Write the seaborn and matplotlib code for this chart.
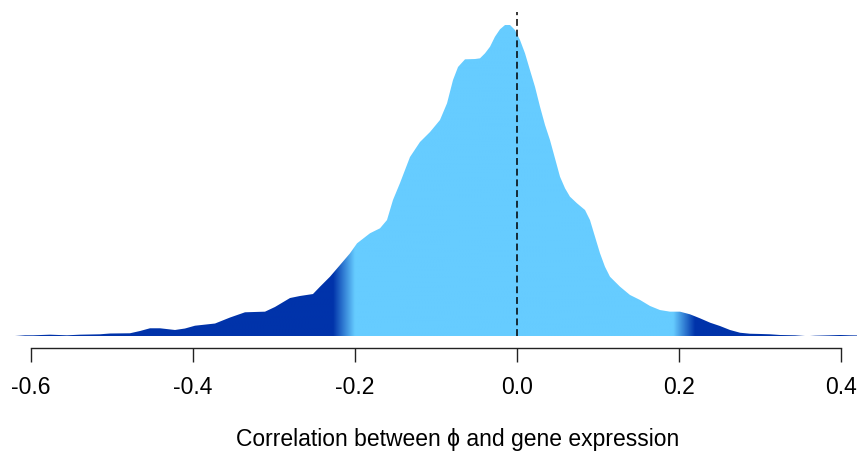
import numpy as np
import pandas as pd
import matplotlib
matplotlib.use("Agg")
import matplotlib.pyplot as plt
from matplotlib.colors import LinearSegmentedColormap
import seaborn as sns

# ---- data (density curve of correlations) ----
correlation = [-0.6198, -0.6074, -0.5975, -0.5765, -0.5556, -0.5395, -0.5148, -0.5025,
               -0.4778, -0.4654, -0.4531, -0.4407, -0.4222, -0.4099, -0.3975, -0.3728,
               -0.3543, -0.3358, -0.3111, -0.2988, -0.2802, -0.2679, -0.2519, -0.2432,
               -0.2309, -0.2185, -0.2062, -0.1975, -0.1815, -0.1691, -0.1605, -0.1531,
               -0.1444, -0.1321, -0.1198, -0.1074, -0.0951, -0.0864, -0.0790, -0.0728,
               -0.0642, -0.0519, -0.0457, -0.0395, -0.0333, -0.0272, -0.0210, -0.0148,
               -0.0086, -0.0025, 0.0037, 0.0099, 0.0160, 0.0222, 0.0284, 0.0346,
               0.0407, 0.0469, 0.0531, 0.0593, 0.0654, 0.0741, 0.0840, 0.0901,
               0.0963, 0.1025, 0.1086, 0.1148, 0.1272, 0.1395, 0.1519, 0.1642,
               0.1765, 0.1889, 0.2012, 0.2136, 0.2259, 0.2383, 0.2506, 0.2630,
               0.2753, 0.2877, 0.3000, 0.3123, 0.3247, 0.3432, 0.3556, 0.3617,
               0.3679, 0.3864, 0.3988, 0.4111, 0.4300]
density = [0.000, 0.009, 0.009, 0.017, 0.009, 0.017, 0.022, 0.032,
           0.035, 0.064, 0.099, 0.099, 0.077, 0.096, 0.132, 0.160,
           0.237, 0.304, 0.312, 0.372, 0.487, 0.513, 0.538, 0.632,
           0.760, 0.910, 1.060, 1.188, 1.317, 1.381, 1.487, 1.744,
           1.962, 2.295, 2.487, 2.615, 2.769, 2.983, 3.282, 3.449,
           3.547, 3.551, 3.560, 3.624, 3.709, 3.837, 3.932, 3.987,
           3.987, 3.923, 3.795, 3.624, 3.410, 3.196, 2.940, 2.705,
           2.513, 2.278, 2.042, 1.894, 1.786, 1.701, 1.615, 1.487,
           1.273, 1.060, 0.888, 0.760, 0.632, 0.526, 0.462, 0.385,
           0.333, 0.312, 0.312, 0.278, 0.227, 0.171, 0.128, 0.077,
           0.042, 0.029, 0.026, 0.022, 0.013, 0.009, 0.000, 0.000,
           0.004, 0.009, 0.013, 0.009, 0.006]
tick_values = [-0.6, -0.4, -0.2, 0.0, 0.2, 0.4]
tick_labels = ["-0.6", "-0.4", "-0.2", "0.0", "0.2", "0.4"]
x_label = "Correlation between \u03d5 and gene expression"

# colour bands: dark tails, light centre, gradients between
dark = "#0033AA"
light = "#66CCFF"
left_band = (-0.227, -0.200)
right_band = (0.193, 0.220)

df = pd.DataFrame({"correlation": correlation, "density": density})

sns.set_style("white")
plt.rcParams["font.family"] = ["Liberation Sans", "DejaVu Sans"]

W, H = 857, 455
fig = plt.figure(figsize=(W / 100, H / 100), dpi=100)
ax = fig.add_axes([0, (H - 336) / H, 1, 324 / H])

xmin, xmax = -517 / 810, 340 / 810
ymax = 324 / 78
ax.set_xlim(xmin, xmax)
ax.set_ylim(0, ymax)

sns.lineplot(data=df, x="correlation", y="density", ax=ax, sort=False,
             estimator=None, linewidth=0, color=light)
poly = ax.fill_between(df["correlation"], 0, df["density"], facecolor="none",
                       edgecolor="none")

# horizontal colour ramp clipped by the density polygon
span = xmax - xmin
def pos(v):
    return (v - xmin) / span
cmap = LinearSegmentedColormap.from_list(
    "band",
    [(0.0, dark), (pos(left_band[0]), dark), (pos(left_band[1]), light),
     (pos(right_band[0]), light), (pos(right_band[1]), dark), (1.0, dark)],
    N=8192)
ramp = np.linspace(0, 1, 4000).reshape(1, -1)
im = ax.imshow(ramp, cmap=cmap, aspect="auto", extent=[xmin, xmax, 0, ymax],
               origin="lower", interpolation="bilinear", zorder=1)
path = poly.get_paths()[0]
im.set_clip_path(path, transform=ax.transData)

ax.axvline(0, color="black", lw=1.1, ls=(0, (4.5, 2.5)), zorder=3)

for s in ["left", "top", "right"]:
    ax.spines[s].set_visible(False)
ax.spines["bottom"].set_position(("outward", 8.64))
ax.spines["bottom"].set_bounds(-0.6, 0.4)
ax.spines["bottom"].set_color("#222222")
ax.spines["bottom"].set_linewidth(1.0)
ax.set_yticks([])
ax.set_xticks(tick_values)
ax.set_xticklabels(tick_labels)
ax.tick_params(axis="x", direction="out", length=10, width=1.0, color="#222222",
               pad=10, labelsize=16.5, labelcolor="black", bottom=True)
ax.set_xlabel(x_label, fontsize=16.5, color="black")
ax.xaxis.set_label_coords(457.5 / W, (336 - 428) / 324)
ax.set_ylabel("")

fig.savefig("out.png", dpi=100)
